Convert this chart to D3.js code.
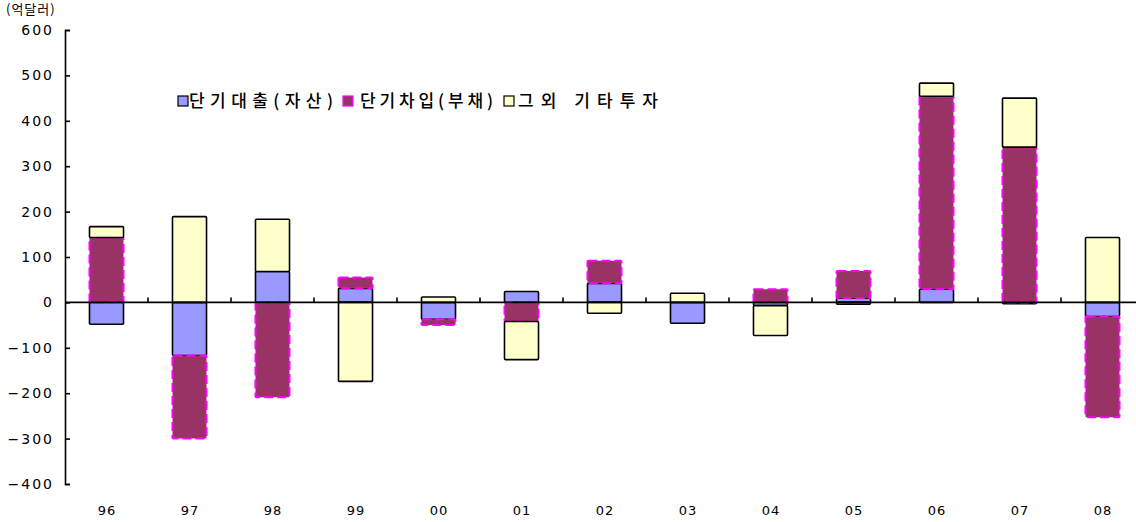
<!DOCTYPE html>
<html>
<head>
<meta charset="utf-8">
<script src="https://cdn.jsdelivr.net/npm/d3@7"></script>
<style>
  html, body { margin: 0; padding: 0; background: #fff; }
  svg { display: block; }
</style>
</head>
<body>
<svg id="chart" width="1136" height="522"></svg>
<script>
// Categories (years) and series values, in 억달러
const years = ["96", "97", "98", "99", "00", "01", "02", "03", "04", "05", "06", "07", "08"];
const shortLoans = [-48, -117, 68, 31, -37, 24, 42, -46, -7, 9, 29, -3, -31];       // 단기대출(자산)
const shortBorrowings = [143, -183, -209, 24, -13, -42, 50, 0, 29, 60, 425, 342, -222]; // 단기차입(부채)
const otherInvestment = [24, 189, 115, -174, 12, -84, -24, 20, -66, -4, 29, 108, 143];  // 그외 기타투자
const yTicks = [600, 500, 400, 300, 200, 100, 0, -100, -200, -300, -400];
const seriesNames = ["단기대출(자산)", "단기차입(부채)", "그외 기타투자"];
const unitLabel = "(억달러)";

const svg = d3.select("#chart");

const x = d3.scaleBand().domain(years).range([65, 1144]).padding(0);
const y = d3.scaleLinear().domain([-400, 600]).range([484, 30]);

const barW = x.bandwidth() * 0.41;

const rows = years.map((yr, i) => ({
  year: yr,
  loans: shortLoans[i],
  borrow: shortBorrowings[i],
  other: otherInvestment[i]
}));

const keys = ["loans", "borrow", "other"];
const stack = d3.stack().keys(keys).offset(d3.stackOffsetDiverging);
const layers = stack(rows);

const styles = {
  loans:  { fill: "#9999FF", stroke: "#000", dash: null, width: 1.6 },
  borrow: { fill: "#993366", stroke: "#FF00FF", dash: "9,4", width: 2 },
  other:  { fill: "#FFFFCC", stroke: "#000", dash: null, width: 1.6 }
};

// Stacked bars
layers.forEach(layer => {
  const st = styles[layer.key];
  svg.append("g")
    .selectAll("rect")
    .data(layer.filter(d => d[1] - d[0] !== 0))
    .join("rect")
    .attr("x", d => x(d.data.year) + (x.bandwidth() - barW) / 2)
    .attr("width", barW)
    .attr("y", d => y(Math.max(d[0], d[1])))
    .attr("height", d => Math.abs(y(d[0]) - y(d[1])))
    .attr("fill", st.fill)
    .attr("stroke", st.stroke)
    .attr("stroke-width", st.width)
    .attr("stroke-dasharray", st.dash)
    .attr("rx", 1);
});

// Zero line with category divider ticks
svg.append("line")
  .attr("x1", x.range()[0]).attr("x2", 1136)
  .attr("y1", y(0)).attr("y2", y(0))
  .attr("stroke", "#000").attr("stroke-width", 1.6);

svg.append("g")
  .selectAll("line")
  .data(years.slice(1))
  .join("line")
  .attr("x1", d => x(d)).attr("x2", d => x(d))
  .attr("y1", y(0)).attr("y2", y(0) - 5)
  .attr("stroke", "#000").attr("stroke-width", 1.6);

// Y axis
const yAxis = d3.axisRight(y).tickValues(yTicks).tickSize(5).tickFormat("");
const gy = svg.append("g").attr("transform", `translate(${x.range()[0]},0)`).call(yAxis);
gy.select(".domain").attr("stroke", "#000").attr("stroke-width", 1.6);
gy.selectAll(".tick line").attr("stroke", "#000").attr("stroke-width", 1.6);

svg.append("g")
  .selectAll("text")
  .data(yTicks)
  .join("text")
  .attr("x", 54)
  .attr("y", d => y(d) + 5)
  .attr("text-anchor", "end")
  .attr("font-family", "DejaVu Sans, sans-serif")
  .attr("font-size", 14)
  .attr("letter-spacing", 2)
  .attr("fill", "#000")
  .text(d => d < 0 ? "\u2212" + Math.abs(d) : d);

// X labels
svg.append("g")
  .selectAll("text")
  .data(years)
  .join("text")
  .attr("x", d => x(d) + x.bandwidth() / 2 + 0.5)
  .attr("y", 515)
  .attr("text-anchor", "middle")
  .attr("font-family", "DejaVu Sans, sans-serif")
  .attr("font-size", 13)
  .attr("letter-spacing", 1)
  .attr("fill", "#000")
  .text(d => d);

// Unit label
svg.append("text")
  .attr("x", 6).attr("y", 14)
  .attr("font-family", "'Noto Sans CJK KR', sans-serif")
  .attr("font-size", 13)
  .attr("letter-spacing", 1)
  .attr("fill", "#000")
  .text(unitLabel);

// Legend
const legendItems = [
  { name: seriesNames[0], st: styles.loans,  x: 178, tx: 189, len: 144 },
  { name: seriesNames[1], st: styles.borrow, x: 343, tx: 360, len: 133 },
  { name: seriesNames[2], st: styles.other,  x: 504, tx: 518, len: 140 }
];
const lg = svg.append("g");
legendItems.forEach(it => {
  lg.append("rect")
    .attr("x", it.x).attr("y", 96).attr("width", 10).attr("height", 10)
    .attr("fill", it.st.fill)
    .attr("stroke", it.st.stroke)
    .attr("stroke-width", 1.2);
  lg.append("text")
    .attr("x", it.tx).attr("y", 107)
    .attr("font-family", "'Noto Sans CJK KR', sans-serif")
    .attr("font-size", 17)
    .attr("font-weight", 500)
    .attr("textLength", it.len)
    .attr("lengthAdjust", "spacing")
    .attr("fill", "#000")
    .text(it.name);
});
</script>
</body>
</html>
